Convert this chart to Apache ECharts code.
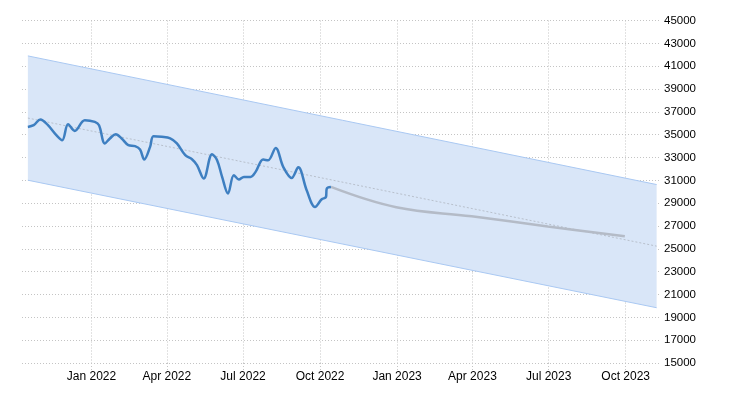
<!DOCTYPE html>
<html>
<head>
<meta charset="utf-8">
<script src="https://cdn.jsdelivr.net/npm/echarts@6/dist/echarts.min.js"></script>
<style>html,body{margin:0;padding:0;background:#fff}#c{width:730px;height:400px}</style>
</head>
<body>
<div id="c"></div>
<script>
const bandDates = ['2021-10-17', '2023-11-07'];
const bandUpper = [41900, 30630];
const bandLower = [31010, 19840];
const trendValues = [36455, 25235];

const histDates = ['2021-10-17','2021-10-24','2021-11-01','2021-11-10','2021-11-20','2021-11-27','2021-12-04','2021-12-12','2021-12-24',
  '2022-01-05','2022-01-10','2022-01-17','2022-01-23','2022-01-30','2022-02-06','2022-02-14','2022-02-22','2022-02-28','2022-03-05',
  '2022-03-12','2022-03-16','2022-03-26','2022-04-05','2022-04-13','2022-04-23','2022-05-01','2022-05-07','2022-05-15','2022-05-25',
  '2022-05-31','2022-06-06','2022-06-13','2022-06-20','2022-06-26','2022-07-02','2022-07-10','2022-07-16','2022-07-25','2022-07-31',
  '2022-08-09','2022-08-18','2022-08-28','2022-09-05','2022-09-15','2022-09-25','2022-10-03','2022-10-08','2022-10-09','2022-10-14'];
const histValues = [35680,35830,36330,35830,34960,34520,35920,35330,36270,
  36120,35830,34230,34670,35040,34670,34080,33990,33700,32820,
  33930,34870,34810,34670,34230,33200,32850,32330,31160,33290,
  32760,31300,29840,31450,31070,31300,31300,31740,32820,32760,
  33840,32180,31210,32150,30130,28670,29340,29540,30280,30420];

const forecastDates = ['2022-10-14','2022-12-31','2023-03-31','2023-06-30','2023-09-30'];
const forecastValues = [30420, 28640, 27850, 26960, 26100];

const xTickDates = ['2022-01-01','2022-04-01','2022-07-01','2022-10-01','2023-01-01','2023-04-01','2023-07-01','2023-10-01'];
const yTicks = [15000,17000,19000,21000,23000,25000,27000,29000,31000,33000,35000,37000,39000,41000,43000,45000];
const monthNames = ['Jan','Feb','Mar','Apr','May','Jun','Jul','Aug','Sep','Oct','Nov','Dec'];

const ts = d => Date.parse(d + 'T00:00:00Z');
const pair = (d, v) => d.map((x, i) => [ts(x), v[i]]);
const xTickTimes = xTickDates.map(ts);

const chart = echarts.init(document.getElementById('c'), null, {renderer: 'canvas'});
const font = {fontFamily: 'Liberation Sans, Arial, sans-serif', fontSize: 12, color: '#000'};
const gridLine = {color: '#c4c4c4', type: [1, 2], width: 1};

function renderBand(params, api) {
  if (params.dataIndex !== 0) return null;
  const up = bandDates.map((d, i) => api.coord([ts(d), bandUpper[i]]));
  const lo = bandDates.map((d, i) => api.coord([ts(d), bandLower[i]]));
  const poly = up.concat(lo.slice().reverse());
  const edge = {stroke: '#a9c8f2', lineWidth: 1, fill: null};
  return {
    type: 'group',
    children: [
      {type: 'polygon', shape: {points: poly}, style: {fill: '#d9e6f8', stroke: null}},
      {type: 'polyline', shape: {points: up}, style: edge},
      {type: 'polyline', shape: {points: lo}, style: edge}
    ]
  };
}

chart.setOption({
  animation: false,
  grid: {left: 22, right: 70, top: 20.5, bottom: 37},
  xAxis: {
    type: 'value',
    min: ts('2021-10-10'),
    max: ts('2023-11-11'),
    axisLine: {show: false},
    axisTick: {show: true, customValues: xTickTimes, length: 7, lineStyle: gridLine},
    splitLine: {show: true, lineStyle: gridLine},
    axisLabel: Object.assign({
      customValues: xTickTimes,
      margin: 8,
      formatter: v => { const d = new Date(v); return monthNames[d.getUTCMonth()] + ' ' + d.getUTCFullYear(); }
    }, font)
  },
  yAxis: {
    type: 'value',
    position: 'right',
    min: 15000,
    max: 45000,
    axisLine: {show: false},
    axisTick: {show: false, customValues: yTicks},
    splitLine: {show: true, lineStyle: gridLine},
    axisLabel: Object.assign({customValues: yTicks, margin: 4, formatter: v => String(v)}, font, {fontSize: 11.5})
  },
  series: [
    {
      type: 'custom', name: 'band', silent: true,
      data: bandDates.map((d, i) => [ts(d), bandUpper[i], bandLower[i]]),
      encode: {x: 0, y: [1, 2]},
      renderItem: renderBand,
      z: 1
    },
    {
      type: 'line', name: 'trend', data: pair(bandDates, trendValues),
      symbol: 'none', silent: true, z: 2,
      lineStyle: {color: '#b8c0cc', width: 1, type: [2, 2]}
    },
    {
      type: 'line', name: 'forecast', data: pair(forecastDates, forecastValues),
      symbol: 'none', smooth: 0.4, z: 3,
      lineStyle: {color: '#b4bbc7', width: 2.5}
    },
    {
      type: 'line', name: 'history', data: pair(histDates, histValues),
      symbol: 'none', smooth: 0.35, z: 4,
      lineStyle: {color: '#3e7fc1', width: 2.5}
    }
  ]
});
</script>
</body>
</html>
